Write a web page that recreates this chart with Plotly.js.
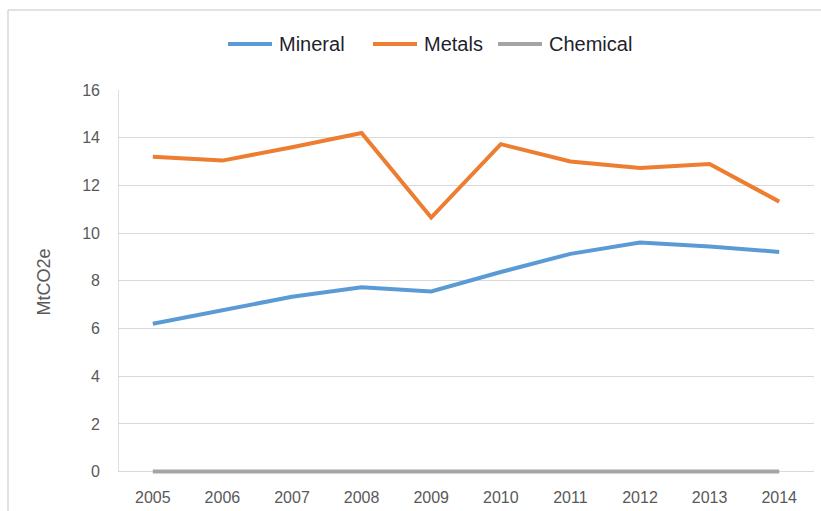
<!DOCTYPE html>
<html>
<head>
<meta charset="utf-8">
<script src="https://cdn.plot.ly/plotly-3.0.1.min.js"></script>
<style>html,body{margin:0;padding:0;background:#fff;}#chart{width:821px;height:511px;}</style>
</head>
<body>
<div id="chart"></div>
<script>
const years = ["2005","2006","2007","2008","2009","2010","2011","2012","2013","2014"];
const mineral = [6.2, 6.75, 7.33, 7.73, 7.55, 8.37, 9.13, 9.61, 9.44, 9.21];
const metals = [13.2, 13.04, 13.6, 14.2, 10.65, 13.73, 13.0, 12.73, 12.9, 11.32];
const chemical = [0, 0, 0, 0, 0, 0, 0, 0, 0, 0];
const seriesNames = ["Mineral", "Metals", "Chemical"];
const colors = ["#5B9BD5", "#ED7D31", "#A5A5A5"];
const yTicks = [0, 2, 4, 6, 8, 10, 12, 14, 16];

// plot area in pixels: x 118..814, y 90..474
const PL = 118, PW = 696, PT = 90, PH = 384;
const px = v => (v - PL) / PW;
const py = v => (PT + PH - v) / PH;

const data = [chemical, mineral, metals].map((vals, i) => {
  const idx = [2, 0, 1][i];
  return {
    x: years, y: vals, type: "scatter", mode: "lines",
    name: seriesNames[idx],
    line: {color: colors[idx], width: 4},
    showlegend: false
  };
});

// manual legend (positions in pixels)
const legLineX = [[228, 272], [373, 417], [498, 542]];
const legTextX = [277, 422, 547];
const legY = 44;
const shapes = [
  {type: "line", xref: "paper", yref: "paper", x0: px(8), x1: px(823), y0: py(10), y1: py(10),
   line: {color: "#d9d9d9", width: 1.5}},
  {type: "line", xref: "paper", yref: "paper", x0: px(8), x1: px(8), y0: py(10), y1: py(515),
   line: {color: "#d9d9d9", width: 1.5}}
];
const annotations = [];
seriesNames.forEach((n, i) => {
  shapes.push({type: "line", xref: "paper", yref: "paper",
    x0: px(legLineX[i][0]), x1: px(legLineX[i][1]), y0: py(legY), y1: py(legY),
    line: {color: colors[i], width: 4}});
  annotations.push({xref: "paper", yref: "paper", x: px(legTextX[i]), y: py(legY),
    xanchor: "left", yanchor: "middle", showarrow: false, text: n,
    font: {size: 20, color: "#1f1f2e", family: "Liberation Sans, Arial, sans-serif"}});
});

const layout = {
  width: 821, height: 511,
  margin: {l: PL, r: 821 - PL - PW, t: PT, b: 511 - PT - PH},
  paper_bgcolor: "#fff", plot_bgcolor: "#fff",
  font: {family: "Liberation Sans, Arial, sans-serif", color: "#595959", size: 16},
  showlegend: false,
  xaxis: {
    type: "category", range: [-0.5, 9.5],
    showgrid: false, showline: false, ticks: "",
    tickfont: {size: 16, color: "#595959"},
    ticklabelstandoff: 12
  },
  yaxis: {
    range: [-0.1, 16], tickvals: yTicks, ticktext: yTicks.map(String),
    showgrid: true, gridcolor: "#d9d9d9", gridwidth: 1,
    zeroline: false, showline: false, ticks: "",
    tickfont: {size: 16, color: "#595959"},
    ticklabelstandoff: 17,
    title: {text: "MtCO2e", font: {size: 18, color: "#595959"}, standoff: 26}
  },
  shapes: shapes.concat([
    {type: "line", xref: "x", yref: "paper", x0: -0.5, x1: -0.5, y0: py(472), y1: py(90),
     line: {color: "#bfbfbf", width: 1}}
  ]),
  annotations: annotations
};

Plotly.newPlot("chart", data, layout, {displayModeBar: false, staticPlot: true});
</script>
</body>
</html>
